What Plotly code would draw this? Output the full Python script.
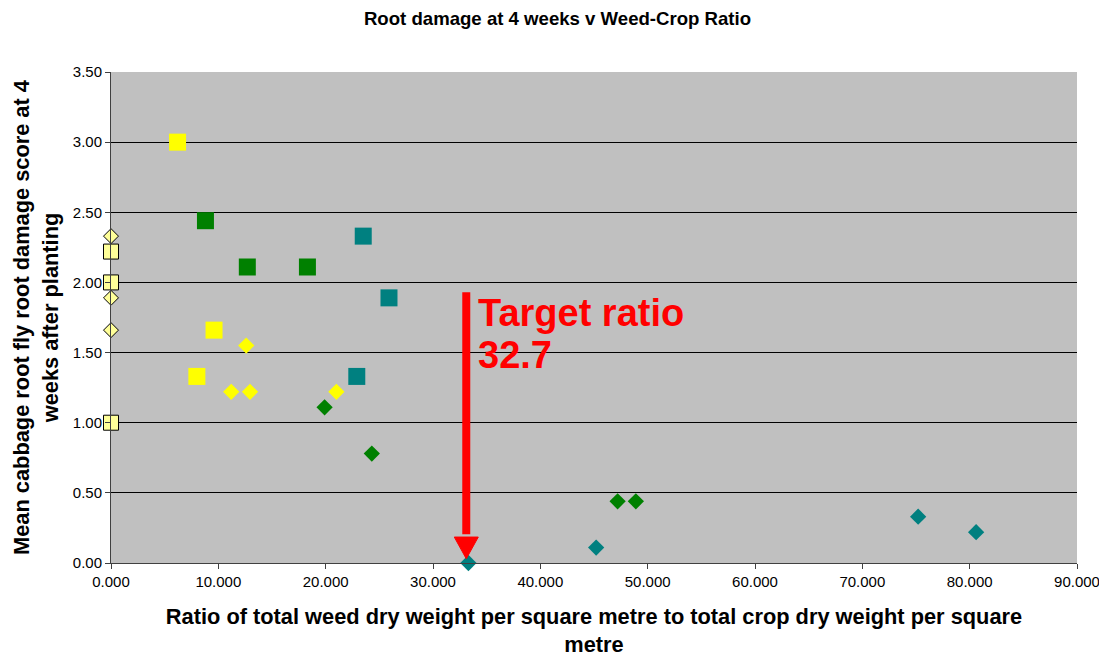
import plotly.graph_objects as go

# Data
yellow_sq_x = [6.2, 9.6, 8.0]
yellow_sq_y = [3.00, 1.66, 1.33]

pale_sq_x = [0.0, 0.0, 0.0]
pale_sq_y = [2.22, 2.00, 1.00]

pale_dia_x = [0.0, 0.0, 0.0]
pale_dia_y = [2.33, 1.89, 1.66]

yellow_dia_x = [12.6, 11.2, 12.95, 21.0]
yellow_dia_y = [1.55, 1.22, 1.22, 1.22]

green_sq_x = [8.8, 12.7, 18.3]
green_sq_y = [2.44, 2.11, 2.11]

green_dia_x = [19.9, 24.3, 47.2, 48.9]
green_dia_y = [1.11, 0.78, 0.44, 0.44]

teal_sq_x = [23.5, 25.9, 22.9]
teal_sq_y = [2.33, 1.89, 1.33]

teal_dia_x = [33.3, 45.2, 75.2, 80.6]
teal_dia_y = [0.0, 0.11, 0.33, 0.22]

x_ticks = [0, 10, 20, 30, 40, 50, 60, 70, 80, 90]
y_ticks = [0, 0.5, 1.0, 1.5, 2.0, 2.5, 3.0, 3.5]

arrow_x = 33.1
arrow_top = 1.93
arrow_head_base = 0.185
arrow_tip = 0.03
target_lines = ["Target ratio", "32.7"]

fig = go.Figure()

def add(xs, ys, symbol, size, color, line_color=None, line_width=0):
    fig.add_trace(go.Scatter(
        x=xs, y=ys, mode="markers",
        marker=dict(symbol=symbol, size=size, color=color,
                    line=dict(color=line_color or color, width=line_width)),
        cliponaxis=False, hoverinfo="x+y"))

add(yellow_sq_x, yellow_sq_y, "square", 17, "#FFFF00")
add(yellow_dia_x, yellow_dia_y, "diamond", 12.5, "#FFFF00")
add(green_sq_x, green_sq_y, "square", 17, "#008000")
add(green_dia_x, green_dia_y, "diamond", 12.5, "#008000")
add(teal_sq_x, teal_sq_y, "square", 17, "#008080")
add(teal_dia_x, teal_dia_y, "diamond", 12.5, "#008080")
add(pale_sq_x, pale_sq_y, "square", 15, "#FFFF99", "#000000", 1)
add(pale_dia_x, pale_dia_y, "diamond", 11.5, "#FFFF99", "#000000", 1)

# Arrow shaft
fig.add_shape(type="line", xref="x", yref="y",
              x0=arrow_x, x1=arrow_x, y0=arrow_top, y1=arrow_head_base + 0.02,
              line=dict(color="#FF0000", width=8))
# Arrow head
hw = 1.12
fig.add_shape(type="path", xref="x", yref="y",
              path=f"M {arrow_x - hw},{arrow_head_base} L {arrow_x + hw},{arrow_head_base} L {arrow_x},{arrow_tip} Z",
              fillcolor="#FF0000", line=dict(color="#FF0000", width=1))

for txt, ty in zip(target_lines, [1.946, 1.646]):
    fig.add_annotation(x=34.05, y=ty, xref="x", yref="y", text=f"<b>{txt}</b>",
                       showarrow=False, xanchor="left", yanchor="top", align="left",
                       font=dict(family="Liberation Sans, Arial, sans-serif", size=38, color="#FF0000"))

W, H = 1099, 649
fig.update_layout(
    width=W, height=H,
    margin=dict(l=103, r=30, t=64, b=94),
    paper_bgcolor="white", plot_bgcolor="#C0C0C0",
    showlegend=False,
    font=dict(family="Liberation Sans, Arial, sans-serif", color="#000000"),
    title=dict(text="<b>Root damage at 4 weeks v Weed-Crop Ratio</b>",
               x=0.5, xanchor="center", y=1 - 10 / H, yanchor="middle",
               font=dict(size=18.6)),
    xaxis=dict(range=[0, 90], tickvals=x_ticks,
               ticktext=[f"{v:.3f}" for v in x_ticks],
               showgrid=False, zeroline=False, automargin=False,
               showline=True, linecolor="#404040", linewidth=1,
               ticks="outside", ticklen=5, tickcolor="#404040",
               tickfont=dict(size=15),
               title=dict(text="<b>Ratio of total weed dry weight per square metre to total crop dry weight per square<br>metre</b>",
                          font=dict(size=21.8), standoff=22)),
    yaxis=dict(range=[0, 3.5], tickvals=y_ticks,
               ticktext=[f"{v:.2f}" for v in y_ticks],
               showgrid=True, gridcolor="#000000", gridwidth=1,
               zeroline=False, automargin=False,
               showline=True, linecolor="#404040", linewidth=1,
               ticks="outside", ticklen=5, tickcolor="#404040",
               tickfont=dict(size=15),
               title=dict(text="<b>Mean cabbage root fly root damage score at 4<br>weeks after planting</b>",
                          font=dict(size=21.8), standoff=8)),
)

fig.write_html("out.html")
